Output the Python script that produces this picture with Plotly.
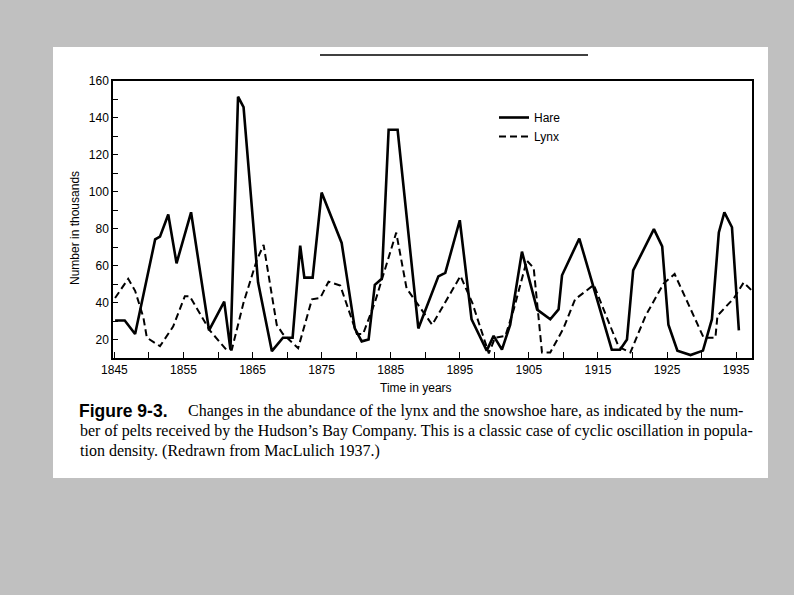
import plotly.graph_objects as go

# ---- data (thousands of pelts) ----
hare_years = [1845.1, 1846.5, 1848.0, 1850.9, 1851.6, 1852.8, 1854.0, 1856.1, 1858.7, 1860.9,
              1861.8, 1862.9, 1863.7, 1865.8, 1867.8, 1869.4, 1870.8, 1871.9, 1872.5, 1873.7,
              1875.0, 1877.9, 1879.8, 1880.8, 1881.8, 1882.7, 1883.7, 1884.7, 1886.0, 1889.0,
              1891.9, 1892.9, 1895.0, 1896.7, 1898.9, 1899.9, 1901.1, 1902.3, 1904.0, 1906.2,
              1908.1, 1909.3, 1909.8, 1912.3, 1917.0, 1918.2, 1919.2, 1920.1, 1923.1, 1924.3,
              1925.2, 1926.5, 1928.4, 1930.2, 1931.5, 1932.5, 1933.3, 1934.4, 1935.4]
hare_values = [30.3, 30.3, 23, 74.2, 75.7, 87.7, 61.3, 88.9, 25, 40.5,
               14.5, 151.5, 145.9, 51, 13.7, 21, 21, 70.8, 53.5, 53.5,
               99.6, 72.3, 26, 19, 20, 49.6, 52.9, 133.6, 133.6, 26,
               54.2, 56.1, 84.6, 31, 14, 22, 14.5, 28, 67.6, 36.2,
               31, 36.3, 54.8, 74.7, 14.5, 14.5, 20, 57.4, 79.8, 70.4,
               28, 14, 11.6, 14, 31, 78, 88.9, 80.8, 25]

lynx_years = [1845.1, 1847.0, 1848.0, 1849.2, 1849.7, 1851.6, 1853.5, 1855.2, 1855.9, 1858.8,
              1861.2, 1862.0, 1863.7, 1865.6, 1866.6, 1868.5, 1869.4, 1871.6, 1873.6, 1874.8,
              1876.0, 1877.7, 1880.1, 1881.0, 1882.7, 1883.9, 1885.8, 1887.3, 1891.0, 1895.1,
              1896.8, 1899.2, 1900.1, 1901.6, 1902.8, 1904.7, 1905.7, 1906.9, 1908.1, 1910.0,
              1911.7, 1914.4, 1918.0, 1919.7, 1921.9, 1924.5, 1926.1, 1930.3, 1932.0, 1932.3,
              1934.7, 1936.1, 1937.3]
lynx_values = [42.5, 52.9, 46.4, 31.9, 21, 16.4, 27, 43.5, 43.5, 25,
               14.5, 14.5, 40, 62.8, 71.3, 28, 23, 15.3, 41.8, 42.5,
               51.3, 49.2, 23, 23, 40, 54.2, 77.9, 47.7, 28, 54.4,
               40, 12.5, 21, 22, 36.2, 62.8, 58.7, 13, 13, 26,
               41.8, 49.6, 16, 13, 32.9, 50.3, 55.5, 21, 21, 32.9,
               42.5, 50.9, 46.4]

x_tick_vals = list(range(1845, 1940, 5))
x_tick_text = [str(v) if (v - 1845) % 10 == 0 else "" for v in x_tick_vals]
y_tick_vals = list(range(20, 170, 10))
y_tick_text = [str(v) if v % 20 == 0 else "" for v in y_tick_vals]

caption_label = "Figure 9-3."
caption_lines = [
    "Changes in the abundance of the lynx and the snowshoe hare, as indicated by the num-",
    "ber of pelts received by the Hudson\u2019s Bay Company. This is a classic case of cyclic oscillation in popula-",
    "tion density. (Redrawn from MacLulich 1937.)",
]

# ---- layout geometry (pixels of the 794x595 page) ----
W, H = 794, 595
L, R, T, B = 113, 752, 81, 358
PW, PH = R - L, B - T


def px(x):
    return (x - L) / PW


def py(y):
    return (B - y) / PH


fig = go.Figure()
fig.add_trace(go.Scatter(x=hare_years, y=hare_values, mode="lines", name="Hare",
                         line=dict(color="black", width=2.6)))
fig.add_trace(go.Scatter(x=lynx_years, y=lynx_values, mode="lines", name="Lynx",
                         line=dict(color="black", width=2, dash="7px,4px")))

tick_font = dict(size=12, family="Liberation Sans, Arial, sans-serif", color="black")

fig.update_layout(
    width=W, height=H,
    margin=dict(l=L, r=W - R, t=T, b=H - B, pad=0),
    paper_bgcolor="#c0c0c0",
    plot_bgcolor="white",
    font=dict(family="Liberation Sans, Arial, sans-serif", size=12, color="black"),
    showlegend=True,
    legend=dict(x=px(494), y=py(103), xanchor="left", yanchor="top",
                bgcolor="rgba(0,0,0,0)", font=dict(size=12), tracegroupgap=0),
    xaxis=dict(range=[1844.8, 1937.3], tickmode="array", tickvals=x_tick_vals,
               ticktext=x_tick_text, ticks="inside", ticklen=6, tickwidth=1.2,
               tickcolor="black", showgrid=False, zeroline=False, showline=True,
               linecolor="black", linewidth=1.5, mirror=True, tickfont=tick_font),
    yaxis=dict(range=[10, 160], tickmode="array", tickvals=y_tick_vals,
               ticktext=y_tick_text, ticks="inside", ticklen=5, tickwidth=1.2,
               tickcolor="black", showgrid=False, zeroline=False, showline=True,
               linecolor="black", linewidth=1.5, mirror=True, tickfont=tick_font),
)

# white page panel behind the figure
fig.add_shape(type="rect", xref="paper", yref="paper", layer="below",
              x0=px(53), x1=px(768), y0=py(478), y1=py(47),
              fillcolor="white", line=dict(width=0))
# rule at top of the page
fig.add_shape(type="line", xref="paper", yref="paper",
              x0=px(320), x1=px(588), y0=py(55), y1=py(55),
              line=dict(color="black", width=1.5))

# axis titles
fig.add_annotation(text="Number in thousands", xref="paper", yref="paper",
                   x=px(75), y=py(228), textangle=-90, showarrow=False,
                   xanchor="center", yanchor="middle",
                   font=dict(size=12, family="Liberation Sans, Arial"))
fig.add_annotation(text="Time in years", xref="paper", yref="paper",
                   x=px(416), y=py(388), showarrow=False,
                   xanchor="center", yanchor="middle",
                   font=dict(size=12, family="Liberation Sans, Arial"))

# caption
fig.add_annotation(text="<b>" + caption_label + "</b>", xref="paper", yref="paper",
                   x=px(77), y=py(411), showarrow=False, xanchor="left", yanchor="middle",
                   font=dict(size=17.5, family="Liberation Sans, Arial"))
cap_x = [186, 78, 78]
cap_y = [411, 431, 451]
for txt, cx, cy in zip(caption_lines, cap_x, cap_y):
    fig.add_annotation(text=txt, xref="paper", yref="paper", x=px(cx), y=py(cy),
                       showarrow=False, xanchor="left", yanchor="middle",
                       font=dict(size=16, family="Liberation Serif, Times New Roman, serif"))

fig.write_html(
    "out.html",
    config={"displayModeBar": False},
    post_script="document.body.style.margin='0';document.body.style.background='#c0c0c0';",
)
